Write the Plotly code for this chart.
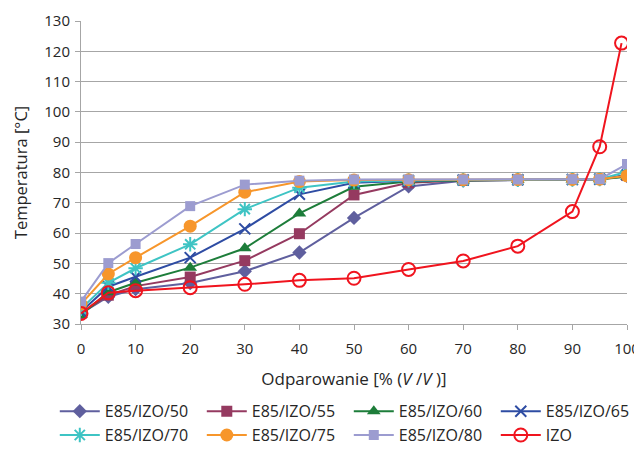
import plotly.graph_objects as go

x_main = [0, 5, 10, 20, 30, 40, 50, 60, 70, 80, 90, 95, 100]
x_izo = [0, 5, 10, 20, 30, 40, 50, 60, 70, 80, 90, 95, 99]

names = ["E85/IZO/50", "E85/IZO/55", "E85/IZO/60", "E85/IZO/65",
         "E85/IZO/70", "E85/IZO/75", "E85/IZO/80", "IZO"]

e50 = [33.5, 39.0, 41.5, 43.5, 47.4, 53.6, 65.0, 75.4, 77.3, 77.6, 77.7, 77.8, 78.8]
e55 = [33.5, 39.5, 42.5, 45.5, 50.9, 59.8, 72.6, 76.6, 77.4, 77.6, 77.7, 77.8, 79.0]
e60 = [33.0, 40.5, 43.6, 48.6, 55.0, 66.5, 75.3, 77.0, 77.4, 77.6, 77.7, 77.8, 78.6]
e65 = [34.0, 42.3, 45.6, 51.9, 61.4, 72.8, 76.6, 77.3, 77.5, 77.6, 77.7, 77.8, 79.2]
e70 = [35.0, 43.6, 48.4, 56.3, 67.9, 75.0, 77.0, 77.4, 77.5, 77.6, 77.7, 77.8, 80.3]
e75 = [36.6, 46.5, 51.9, 62.3, 73.5, 77.0, 77.5, 77.6, 77.6, 77.7, 77.7, 77.8, 78.9]
e80 = [37.4, 50.1, 56.4, 68.9, 76.0, 77.3, 77.7, 77.7, 77.7, 77.7, 77.8, 77.8, 82.8]
izo = [33.5, 40.3, 41.0, 42.0, 43.1, 44.4, 45.1, 48.0, 50.8, 55.7, 67.1, 88.5, 122.7]

series = [e50, e55, e60, e65, e70, e75, e80, izo]
colors = ["#5F5F9E", "#953A60", "#1D7D3A", "#2E4CA3", "#3EC4C4", "#F7962B", "#9C9CD0", "#F0141E"]
symbols = ["diamond", "square", "triangle-up", "x-thin", "asterisk", "circle", "square", "circle-open"]
msizes = [11, 11, 12, 11, 12, 13, 10, 13]

fig = go.Figure()
for i, (nm, ys) in enumerate(zip(names, series)):
    xs = x_izo if nm == "IZO" else x_main
    thin = symbols[i] in ("x-thin", "asterisk", "circle-open")
    fig.add_trace(go.Scatter(
        x=xs, y=ys, name=nm, mode="lines+markers",
        line=dict(color=colors[i], width=2),
        marker=dict(symbol=symbols[i], size=msizes[i], color=colors[i],
                    line=dict(color=colors[i], width=2 if thin else 0)),
    ))

font = "'Open Sans', 'Noto Sans', sans-serif"
# the page body has an 8px margin, so the figure is sized/placed to compensate
fig.update_layout(
    width=634, height=449,
    margin=dict(l=73, r=15, t=13, b=133, autoexpand=False),
    paper_bgcolor="white", plot_bgcolor="white",
    font=dict(family=font, size=15, color="#262626"),
    showlegend=True,
    legend=dict(orientation="h", x=-0.048, xanchor="left", y=-0.232, yanchor="top",
                entrywidth=92, entrywidthmode="pixels",
                font=dict(size=16), tracegroupgap=0, itemwidth=40),
    xaxis=dict(range=[0, 100], tickvals=list(range(0, 101, 10)),
               showgrid=False, showline=True, linecolor="#A6A6A6", linewidth=1,
               ticks="outside", ticklen=5, tickcolor="#A6A6A6", ticklabelstandoff=6,
               title=dict(text="Odparowanie [% (<i>V</i> /<i>V</i> )]", font=dict(size=17), standoff=16),
               zeroline=False),
    yaxis=dict(range=[30, 130], tickvals=list(range(30, 131, 10)),
               showgrid=True, gridcolor="#A6A6A6", gridwidth=1,
               showline=True, linecolor="#A6A6A6", linewidth=1,
               ticks="outside", ticklen=5, tickcolor="#A6A6A6", ticklabelstandoff=2,
               title=dict(text="Temperatura [°C]", font=dict(size=16.5), standoff=12),
               zeroline=False),
)

fig.write_html("out.html")
